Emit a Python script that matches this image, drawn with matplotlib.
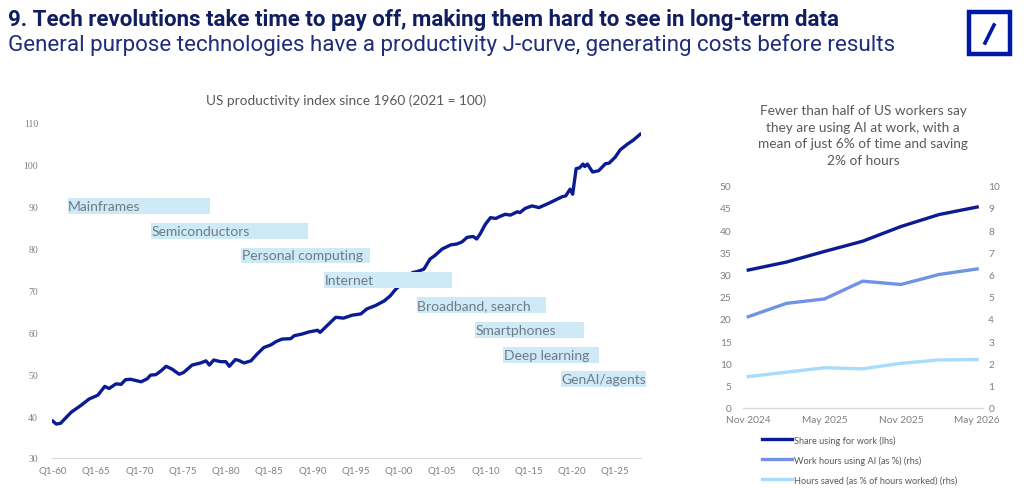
import matplotlib
matplotlib.use("Agg")
import matplotlib.pyplot as plt
from matplotlib.lines import Line2D
from matplotlib.patches import Rectangle

# --- data: US productivity index (2021 = 100) ---
prod_year = [1960.0, 1960.4, 1960.9, 1962.1, 1963.2, 1964.2, 1965.2, 1966.0, 1966.5, 1967.3,
             1967.9, 1968.4, 1969.0, 1970.2, 1970.9, 1971.3, 1971.9, 1972.5, 1973.1, 1973.8,
             1974.6, 1975.1, 1976.1, 1977.1, 1977.7, 1978.1, 1978.6, 1979.4, 1980.0, 1980.4,
             1981.1, 1981.5, 1982.1, 1982.9, 1983.6, 1984.4, 1985.2, 1985.8, 1986.5, 1987.5,
             1987.9, 1988.8, 1989.6, 1990.6, 1990.9, 1991.5, 1992.1, 1992.7, 1993.6, 1994.6,
             1995.6, 1996.3, 1997.3, 1998.3, 1999.0, 1999.6, 2000.5, 2001.6, 2002.1, 2002.9,
             2003.6, 2004.2, 2005.0, 2006.0, 2006.7, 2007.3, 2007.9, 2008.6, 2009.0, 2009.4,
             2010.0, 2010.6, 2011.2, 2011.7, 2012.3, 2012.9, 2013.7, 2014.0, 2014.6, 2015.4,
             2016.2, 2017.3, 2018.1, 2018.9, 2019.3, 2019.8, 2020.1, 2020.5, 2020.9, 2021.3,
             2021.5, 2021.8, 2022.4, 2023.1, 2023.9, 2024.3, 2025.0, 2025.6, 2026.4, 2027.1,
             2027.9]
prod_index = [38.8, 38.1, 38.3, 40.9, 42.5, 44.1, 45.0, 47.1, 46.6, 47.7,
              47.6, 48.7, 48.8, 48.2, 48.9, 49.8, 49.9, 50.8, 51.9, 51.2,
              50.0, 50.4, 52.2, 52.7, 53.2, 52.2, 53.4, 53.0, 53.0, 51.9,
              53.5, 53.3, 52.7, 53.2, 54.8, 56.4, 57.0, 57.8, 58.4, 58.5,
              59.2, 59.6, 60.1, 60.5, 60.0, 61.2, 62.4, 63.6, 63.4, 64.1,
              64.4, 65.6, 66.4, 67.5, 68.7, 70.2, 72.0, 74.3, 74.5, 75.1,
              77.5, 78.4, 79.9, 80.9, 81.1, 81.6, 82.7, 82.9, 82.3, 83.5,
              85.8, 87.4, 87.2, 87.7, 88.2, 88.0, 88.8, 88.6, 89.6, 90.2,
              89.8, 90.8, 91.6, 92.4, 92.6, 94.2, 93.0, 99.1, 99.3, 100.2,
              99.6, 100.2, 98.3, 98.6, 100.3, 100.4, 101.8, 103.6, 104.9, 105.9,
              107.3]

tech_names = ["Mainframes", "Semiconductors", "Personal computing", "Internet",
              "Broadband, search", "Smartphones", "Deep learning", "GenAI/agents"]
tech_start = [1961.7, 1971.4, 1981.8, 1991.4, 2002.1, 2008.8, 2012.1, 2018.7]
tech_end = [1978.2, 1989.5, 1996.7, 2006.2, 2017.0, 2021.4, 2023.1, 2028.6]

x_tick_years = list(range(1960, 2026, 5))
x_tick_labels = ["Q1-%02d" % (y % 100) for y in x_tick_years]

# --- data: AI use survey ---
survey_dates = ["Nov 2024", "Feb 2025", "May 2025", "Aug 2025", "Nov 2025", "Feb 2026", "May 2026"]
share_using = [31.0, 32.8, 35.2, 37.5, 40.8, 43.5, 45.2]          # lhs
work_hours_ai = [4.1, 4.7, 4.9, 5.7, 5.55, 6.0, 6.25]              # rhs
hours_saved = [1.4, 1.6, 1.8, 1.75, 2.0, 2.15, 2.17]               # rhs

NAVY = "#0b1c93"
MID = "#7193e6"
LIGHT = "#a8dcfb"
GREY = "#7f7f7f"
TXT = "#595959"

plt.rcParams["font.family"] = ["Lato", "DejaVu Sans"]

W, H = 1024, 489
fig = plt.figure(figsize=(W / 100, H / 100), dpi=100)
fig.patch.set_facecolor("white")


def fx(px):
    return px / W


def fy(py):
    return 1 - py / H


# header
fig.text(fx(8), fy(20), "9. Tech revolutions take time to pay off, making them hard to see in long-term data",
         fontsize=16, fontweight="bold", color="#101d5e", va="center", ha="left",
         family=["Roboto", "DejaVu Sans"])
fig.text(fx(8), fy(45), "General purpose technologies have a productivity J-curve, generating costs before results",
         fontsize=16.1, color="#1f2d7b", va="center", ha="left", family=["Roboto", "DejaVu Sans"])

# logo
fig.patches.append(Rectangle((fx(969), fy(55)), 41 / W, 42 / H, transform=fig.transFigure,
                             facecolor="white", edgecolor="#0018a8", linewidth=3.2))
fig.lines.append(Line2D([fx(985), fx(994)], [fy(44), fy(26)], transform=fig.transFigure,
                        color="#0018a8", linewidth=2.6))

# ---- left chart ----
ax = fig.add_axes([fx(52), fy(459), fx(641) - fx(52), fy(124) - fy(459)])
ax.plot(prod_year, prod_index, color=NAVY, linewidth=2.4, zorder=2, solid_joinstyle="round")

row_gap = 5.92
for i, name in enumerate(tech_names):
    yc = 90.2 - row_gap * i
    ax.barh(yc, tech_end[i] - tech_start[i], left=tech_start[i], height=3.8,
            color="#cdeaf6", zorder=3, clip_on=False)
    ax.text(tech_start[i] + 0.05, yc, name, fontsize=10, color="#6e7b86", va="center",
            ha="left", zorder=4)

ax.set_xlim(1959.9, 2028.0)
ax.set_ylim(30, 110)
ax.set_yticks(range(30, 111, 10))
ax.set_xticks(x_tick_years)
ax.set_xticklabels(x_tick_labels)
for s in ["top", "right", "left"]:
    ax.spines[s].set_visible(False)
ax.spines["bottom"].set_color("#d9d9d9")
ax.tick_params(axis="both", length=0, labelsize=7, colors=GREY)
ax.tick_params(axis="x", pad=6)
ax.tick_params(axis="y", pad=10)
for lab in ax.get_yticklabels():
    lab.set_family(["Liberation Serif", "DejaVu Serif"])
ax.set_title("US productivity index since 1960 (2021 = 100)", fontsize=9.8, color=TXT, pad=14)

# ---- right chart ----
bx = fig.add_axes([fx(742.7), fy(408.7), fx(982.7) - fx(742.7), fy(186.7) - fy(408.7)])
xi = list(range(len(survey_dates)))
bx.plot(xi, share_using, color=NAVY, linewidth=2.4, zorder=3)
bx2 = bx.twinx()
bx2.plot(xi, work_hours_ai, color=MID, linewidth=2.4)
bx2.plot(xi, hours_saved, color=LIGHT, linewidth=2.4)

bx.set_xlim(-0.146, len(xi) - 1 + 0.146)
bx.set_ylim(0, 50)
bx2.set_ylim(0, 10)
bx.set_yticks(range(0, 51, 5))
bx2.set_yticks(range(0, 11, 1))
bx.set_xticks(xi[::2])
bx.set_xticklabels(survey_dates[::2])
for a in (bx, bx2):
    for s in ["top", "right", "left"]:
        a.spines[s].set_visible(False)
    a.spines["bottom"].set_color("#d9d9d9")
    a.tick_params(axis="both", length=0, labelsize=7.3, colors=GREY)
bx.tick_params(axis="y", pad=8)
bx2.tick_params(axis="y", pad=4)
bx.tick_params(axis="x", pad=5)

fig.text(fx(863), fy(136), "Fewer than half of US workers say\nthey are using AI at work, with a\n"
         "mean of just 6% of time and saving\n2% of hours", fontsize=9.8, color=TXT,
         ha="center", va="center", linespacing=1.45)

handles = [Line2D([], [], color=NAVY, linewidth=2.4),
           Line2D([], [], color=MID, linewidth=2.4),
           Line2D([], [], color=LIGHT, linewidth=2.4)]
labels = ["Share using for work (lhs)", "Work hours using AI (as %) (rhs)",
          "Hours saved (as % of hours worked) (rhs)"]
fig.legend(handles, labels, loc="upper left", bbox_to_anchor=(fx(762), fy(436)), frameon=False,
           fontsize=6.6, labelcolor=TXT, handlelength=3.3, handletextpad=0.2, labelspacing=1.15,
           borderaxespad=0, borderpad=0)

fig.savefig("out.png", dpi=100)
